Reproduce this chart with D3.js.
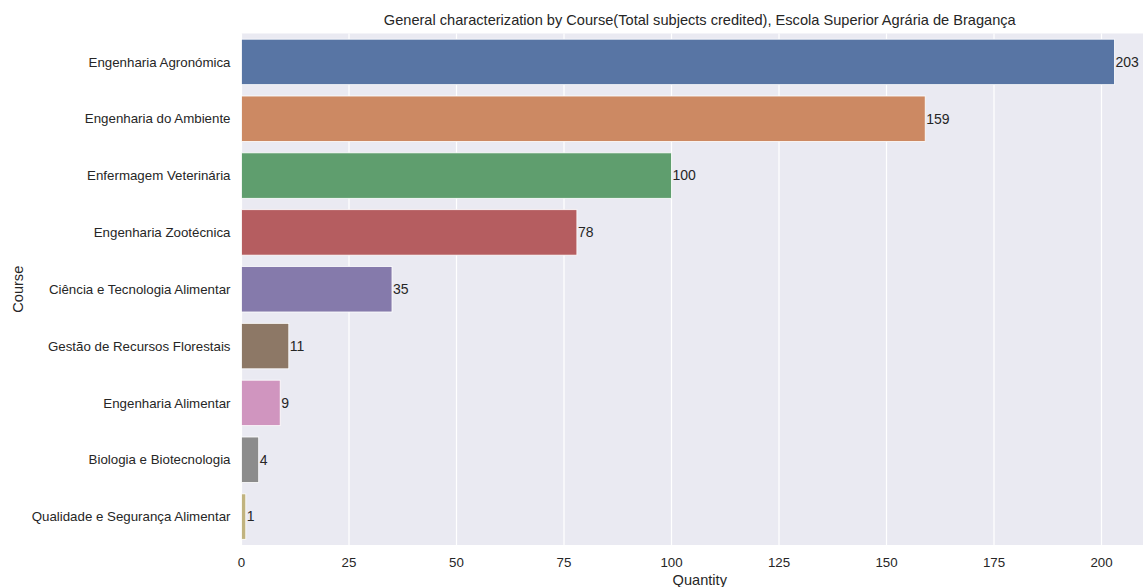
<!DOCTYPE html>
<html><head><meta charset="utf-8">
<script src="https://cdn.jsdelivr.net/npm/d3@7"></script>
<style>
html,body{margin:0;padding:0;background:#fff;overflow:hidden}
text{font-family:"Liberation Sans",Arial,sans-serif;fill:#262626}
</style></head>
<body><svg id="c" width="1143" height="587"></svg>
<script>
const categories = ["Engenharia Agronómica","Engenharia do Ambiente","Enfermagem Veterinária","Engenharia Zootécnica","Ciência e Tecnologia Alimentar","Gestão de Recursos Florestais","Engenharia Alimentar","Biologia e Biotecnologia","Qualidade e Segurança Alimentar"];
const values = [203,159,100,78,35,11,9,4,1];
const colors = ["#5875a4","#cc8963","#5f9e6e","#b55d60","#857aab","#8d7866","#d095bf","#8c8c8c","#c1b37f"];
const xTicks = [0,25,50,75,100,125,150,175,200];
const title = "General characterization by Course(Total subjects credited), Escola Superior Agrária de Bragança";

const svg = d3.select("#c");
const L = 241.5, T = 33.5, B = 545;
const x = d3.scaleLinear().domain([0, 213.15]).range([L, L + 213.15*4.3]);
const y = d3.scaleBand().domain(categories).range([T, B]).paddingInner(0.2).paddingOuter(0.1);

svg.append("rect").attr("x", L).attr("y", T).attr("width", x(213.15)-L).attr("height", B-T).attr("fill", "#eaeaf2");

svg.append("g").selectAll("line").data(xTicks).join("line")
  .attr("x1", d=>x(d)).attr("x2", d=>x(d)).attr("y1", T).attr("y2", B)
  .attr("stroke", "#fff").attr("stroke-width", 1.2);

svg.append("g").selectAll("rect").data(values).join("rect")
  .attr("x", x(0)).attr("y", (d,i)=>y(categories[i]))
  .attr("width", d=>x(d)-x(0)).attr("height", y.bandwidth())
  .attr("fill", (d,i)=>colors[i]).attr("stroke", "#fff").attr("stroke-width", 0.8);

svg.append("g").selectAll("text").data(values).join("text")
  .attr("x", d=>x(d)+1).attr("y", (d,i)=>y(categories[i])+y.bandwidth()/2)
  .attr("dy", "0.35em").attr("font-size", 14).text(d=>d);

svg.append("g").selectAll("text").data(categories).join("text")
  .attr("x", L - 11).attr("y", d=>y(d)+y.bandwidth()/2).attr("dy","0.35em")
  .attr("text-anchor","end").attr("font-size", 13.3).text(d=>d);

svg.append("g").selectAll("text").data(xTicks).join("text")
  .attr("x", d=>x(d)).attr("y", B + 22).attr("text-anchor","middle")
  .attr("font-size", 13.3).text(d=>d);

svg.append("text").attr("x", x(213.15/2)).attr("y", 585).attr("text-anchor","middle")
  .attr("font-size", 14.6).text("Quantity");
svg.append("text").attr("transform", `translate(23,${(T+B)/2}) rotate(-90)`)
  .attr("text-anchor","middle").attr("font-size", 14.6).text("Course");
svg.append("text").attr("x", x(213.15/2)).attr("y", 25).attr("text-anchor","middle")
  .attr("font-size", 14.6).text(title);
</script></body></html>
